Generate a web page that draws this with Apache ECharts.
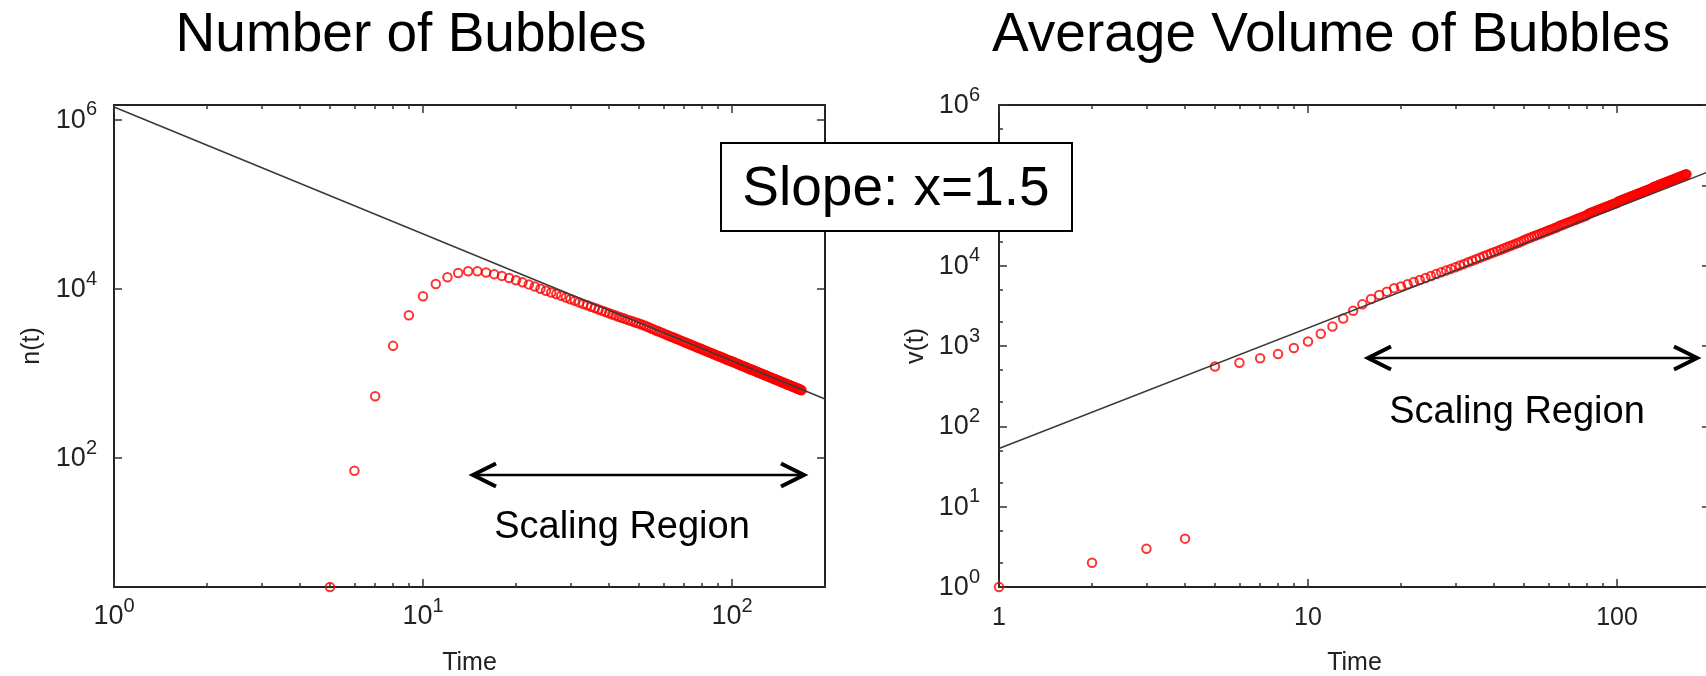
<!DOCTYPE html>
<html>
<head>
<meta charset="utf-8">
<script src="https://cdn.jsdelivr.net/npm/echarts@6/dist/echarts.min.js"></script>
<style>
html,body{margin:0;padding:0;background:#fff;}
#chart{width:1706px;height:676px;}
</style>
</head>
<body>
<div id="chart"></div>
<script>
// time steps (shared by both panels)
var timeSteps = [
 1,2,3,4,5,6,7,8,9,10,11,12,13,14,15,16,17,18,19,20,
 21,22,23,24,25,26,27,28,29,30,31,32,33,34,35,36,37,38,39,40,
 41,42,43,44,45,46,47,48,49,50,51,52,53,54,55,56,57,58,59,60,
 61,62,63,64,65,66,67,68,69,70,71,72,73,74,75,76,77,78,79,80,
 81,82,83,84,85,86,87,88,89,90,91,92,93,94,95,96,97,98,99,100,
 101,102,103,104,105,106,107,108,109,110,111,112,113,114,115,116,117,118,119,120,
 121,122,123,124,125,126,127,128,129,130,131,132,133,134,135,136,137,138,139,140,
 141,142,143,144,145,146,147,148,149,150,151,152,153,154,155,156,157,158,159,160,
 161,162,163,164,165,166,167,168
];

// n(t): number of bubbles (no bubbles before t=5)
var bubbleCount = [
 null,null,null,null,3,71,540,2130,4900,8220,
 11500,13800,15500,16200,16200,15700,15000,14300,13500,12700,
 12000,11350,10700,10100,9550,9120,8710,8320,7940,7590,
 7250,6950,6670,6420,6190,5960,5740,5540,5350,5180,
 5010,4860,4710,4570,4440,4320,4210,4100,4000,3920,
 3810,3700,3600,3500,3400,3310,3220,3140,3060,2990,
 2910,2840,2770,2710,2650,2590,2530,2470,2420,2370,
 2320,2270,2220,2180,2140,2090,2050,2010,1980,1940,
 1900,1870,1830,1800,1770,1740,1710,1680,1650,1620,
 1600,1570,1550,1520,1500,1470,1450,1430,1410,1390,
 1370,1350,1330,1310,1290,1270,1250,1240,1220,1200,
 1190,1170,1150,1140,1120,1110,1100,1080,1070,1060,
 1040,1030,1020,1005,993,981,969,958,947,936,
 925,915,904,894,884,875,865,856,847,837,
 829,820,811,803,795,786,778,771,763,755,
 748,740,733,726,719,712,705,699,692,686,
 679,673,667,661,655,649,643,637
];

// v(t): average volume of bubbles
var bubbleVolume = [
 1,2,3,4,555,620,705,795,945,1135,
 1420,1745,2200,2750,3300,3850,4320,4750,5250,5500,
 5880,6250,6640,7020,7430,7850,8270,8690,9120,9550,
 10030,10520,11020,11520,12030,12550,13080,13610,14150,14700,
 15260,15820,16390,16960,17540,18130,18720,19320,19930,20780,
 21410,22040,22680,23330,23980,24630,25300,25960,26640,27320,
 28000,28700,29390,30100,31170,31890,32620,33350,34090,34830,
 35580,36330,37090,37860,38630,39400,40180,40970,41760,42550,
 44350,45180,46010,46840,47680,48520,49370,50220,51080,51950,
 52820,53690,54570,55450,56340,57230,58120,59020,59930,60840,
 62910,63850,64790,65740,66680,67640,68600,69570,70530,71510,
 72490,73470,74450,75440,76430,77440,78440,79450,80460,81470,
 82500,83520,84550,85580,86620,87660,88710,89760,90810,91870,
 94450,95530,96610,97710,98810,99900,101000,102110,103230,104340,
 105460,106590,107710,108850,109980,111120,112270,113410,114570,115720,
 116880,118040,119210,120380,121550,122730,123910,125100,126290,127490,
 128680,129880,131080,132290,133510,134720,135940,137160
];

// power-law fit lines (end points)
var fitTime = [1, 200];
var countFit = [1420000, 502];
var volumeFit = [53, 150000];

// axis ticks
var timeTicks = [1, 10, 100];
var timeMinorTicks = [2,3,4,5,6,7,8,9,20,30,40,50,60,70,80,90,200];
var countTicks = [100, 10000, 1000000];
var volumeTicks = [1, 10, 100, 1000, 10000, 100000, 1000000];
var volumeMinorTicks = [2,5,20,50,200,500,2000,5000,20000,50000,200000,500000];

var FONT = '"Liberation Sans", Arial, Helvetica, sans-serif';

function zip(xs, ys) {
  var out = [];
  for (var i = 0; i < xs.length; i++) {
    if (ys[i] != null) out.push([xs[i], ys[i]]);
  }
  return out;
}

function powLabel(v) {
  return '{b|10}{s|' + Math.round(Math.log10(v)) + '}';
}
var powRich = {
  b: {fontSize: 27, fontFamily: FONT, color: '#222', lineHeight: 28, verticalAlign: 'bottom'},
  s: {fontSize: 20, fontFamily: FONT, color: '#222', lineHeight: 20, padding: [0, 0, 14, 0], verticalAlign: 'bottom'}
};

// one log axis; labels only on the main one
function logAxis(grid, pos, min, max, ticks, len, label, name, nameGap) {
  var ax = {
    type: 'log', logBase: 10, gridIndex: grid, position: pos,
    min: min, max: max,
    axisLine: {show: false, onZero: false},
    splitLine: {show: false},
    minorTick: {show: false},
    axisTick: {show: true, inside: true, length: len, customValues: ticks,
      lineStyle: {color: '#333', width: 1.5}},
    axisLabel: {show: false}
  };
  if (label) {
    ax.axisLabel = label;
  }
  if (name) {
    ax.name = name;
    ax.nameLocation = 'middle';
    ax.nameGap = nameGap;
    ax.nameTextStyle = {fontSize: 25, fontFamily: FONT, color: '#222'};
  }
  return ax;
}

var xLabelPow = {show: true, customValues: timeTicks, formatter: powLabel, rich: powRich, margin: 15};
var xLabelPlain = {show: true, customValues: timeTicks, fontSize: 25, fontFamily: FONT, color: '#222', margin: 19};
var yLabelCount = {show: true, customValues: countTicks, formatter: powLabel, rich: powRich, margin: 17};
var yLabelVolume = {show: true, customValues: volumeTicks, formatter: powLabel, rich: powRich, margin: 19};

var xAxes = [
  logAxis(0, 'bottom', 1, 200, timeTicks, 8, xLabelPow, 'Time', 64),
  logAxis(0, 'bottom', 1, 200, timeMinorTicks, 4),
  logAxis(0, 'top', 1, 200, timeTicks, 8),
  logAxis(0, 'top', 1, 200, timeMinorTicks, 4),
  logAxis(1, 'bottom', 1, 200, timeTicks, 8, xLabelPlain, 'Time', 64),
  logAxis(1, 'bottom', 1, 200, timeMinorTicks, 4),
  logAxis(1, 'top', 1, 200, timeTicks, 8),
  logAxis(1, 'top', 1, 200, timeMinorTicks, 4)
];
var yAxes = [
  logAxis(0, 'left', 3, 1500000, countTicks, 8, yLabelCount, 'n(t)', 69),
  logAxis(0, 'right', 3, 1500000, countTicks, 8),
  logAxis(1, 'left', 1, 1000000, volumeTicks, 8, yLabelVolume, 'v(t)', 70),
  logAxis(1, 'left', 1, 1000000, volumeMinorTicks, 4),
  logAxis(1, 'right', 1, 1000000, volumeTicks, 8),
  logAxis(1, 'right', 1, 1000000, volumeMinorTicks, 4)
];

var dotStyle = {color: 'rgba(0,0,0,0)', borderColor: '#ff0000', borderWidth: 2};
var fitStyle = {color: '#3a3a3a', width: 1.6};

function chevron(x, y, dir) {
  return {
    type: 'polyline', z: 50,
    shape: {points: [[x + dir * 23, y - 11.5], [x, y], [x + dir * 23, y + 11.5]]},
    style: {stroke: '#000', lineWidth: 4, fill: null, lineJoin: 'miter'}
  };
}
function arrow(x1, x2, y) {
  return [
    {type: 'line', z: 50, shape: {x1: x1 + 2, y1: y, x2: x2 - 2, y2: y}, style: {stroke: '#000', lineWidth: 2.5}},
    chevron(x1, y, 1),
    chevron(x2, y, -1)
  ];
}
function text(str, x, y, size) {
  return {
    type: 'text', z: 60, x: x, y: y,
    style: {text: str, fontSize: size, fontFamily: FONT, fill: '#000', align: 'center', verticalAlign: 'middle'}
  };
}

var graphics = [
  text('Number of Bubbles', 411, 36, 55),
  text('Average Volume of Bubbles', 1331, 36, 55),
  text('Scaling Region', 622, 528, 38),
  text('Scaling Region', 1517, 413, 38),
  {type: 'rect', z: 90, shape: {x: 721, y: 143, width: 351, height: 88},
    style: {fill: '#fff', stroke: '#000', lineWidth: 2}},
  {type: 'text', z: 91, x: 896, y: 190,
    style: {text: 'Slope: x=1.5', fontSize: 55, fontFamily: FONT, fill: '#000', align: 'center', verticalAlign: 'middle'}}
].concat(arrow(473, 804, 475), arrow(1368, 1697, 358));

var myChart = echarts.init(document.getElementById('chart'));
var option = {
  animation: false,
  backgroundColor: '#fff',
  grid: [
    {left: 114, top: 105, width: 711, height: 482, show: true, borderColor: '#222', borderWidth: 2,
      backgroundColor: 'transparent', containLabel: false, outerBoundsMode: 'none'},
    {left: 999, top: 105, width: 711, height: 482, show: true, borderColor: '#222', borderWidth: 2,
      backgroundColor: 'transparent', containLabel: false, outerBoundsMode: 'none'}
  ],
  xAxis: xAxes,
  yAxis: yAxes,
  series: [
    {type: 'scatter', xAxisIndex: 0, yAxisIndex: 0, symbol: 'circle', symbolSize: 8.5, clip: false,
      itemStyle: dotStyle, data: zip(timeSteps, bubbleCount)},
    {type: 'line', xAxisIndex: 0, yAxisIndex: 0, showSymbol: false, lineStyle: fitStyle,
      data: zip(fitTime, countFit)},
    {type: 'scatter', xAxisIndex: 4, yAxisIndex: 2, symbol: 'circle', symbolSize: 8.5, clip: false,
      itemStyle: dotStyle, data: zip(timeSteps, bubbleVolume)},
    {type: 'line', xAxisIndex: 4, yAxisIndex: 2, showSymbol: false, lineStyle: fitStyle,
      data: zip(fitTime, volumeFit)}
  ],
  graphic: graphics
};
myChart.setOption(option);
</script>
</body>
</html>
